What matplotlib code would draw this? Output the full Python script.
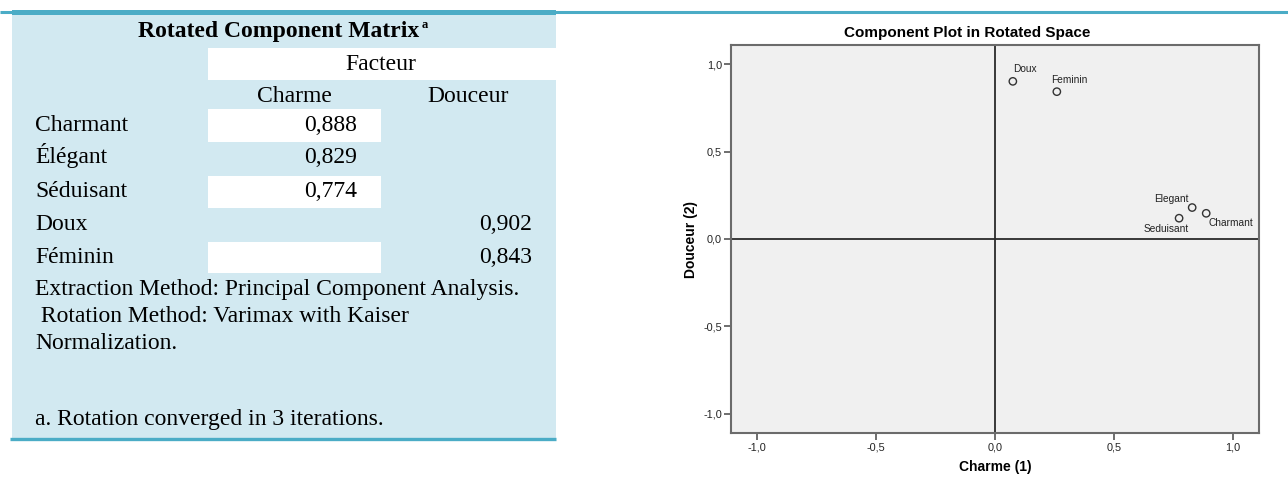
import matplotlib
matplotlib.use('Agg')
import matplotlib.pyplot as plt
from matplotlib.patches import Rectangle

# table data
variables = ['Charmant', 'Élégant', 'Séduisant', 'Doux', 'Féminin']
charme = [0.888, 0.829, 0.774, None, None]
douceur = [None, None, None, 0.902, 0.843]
notes = ['Extraction Method: Principal Component Analysis.',
         ' Rotation Method: Varimax with Kaiser',
         'Normalization.']
footnote = 'a. Rotation converged in 3 iterations.'

# component plot data
point_names = ['Charmant', 'Elegant', 'Seduisant', 'Doux', 'Feminin']
comp1 = [0.888, 0.829, 0.774, 0.075, 0.260]
comp2 = [0.147, 0.180, 0.119, 0.902, 0.843]
ticks = [-1.0, -0.5, 0.0, 0.5, 1.0]

W, H = 1288, 487
fig = plt.figure(figsize=(W / 100, H / 100), dpi=100)

# overlay in pixel coords for the table
bg = fig.add_axes([0, 0, 1, 1])
bg.set_xlim(0, W)
bg.set_ylim(H, 0)
bg.axis('off')

serif = 'Liberation Serif'
sans = 'Liberation Sans'
fs = 17
blue = '#4BACC6'

bg.add_patch(Rectangle((12, 14), 544, 424, fc='#D2E9F1', ec='none'))
bg.plot([0, W], [12, 12], color=blue, lw=2.2, solid_capstyle='butt')
bg.add_patch(Rectangle((12, 10), 544, 5, fc=blue, ec='none'))
bg.plot([10, 556], [438.5, 438.5], color=blue, lw=2.4, solid_capstyle='butt')

# white cells
bg.add_patch(Rectangle((208, 48), 348, 32, fc='white', ec='none'))
for y0, h in [(109, 33), (176, 32), (242, 31)]:
    bg.add_patch(Rectangle((208, y0), 173, h, fc='white', ec='none'))

bg.text(279, 37, 'Rotated Component Matrix', ha='center', va='baseline',
        fontsize=fs, fontweight='bold', family=serif)
bg.text(422, 28, 'a', ha='left', va='baseline', fontsize=9,
        fontweight='bold', family=serif)
bg.text(381, 70, 'Facteur', ha='center', va='baseline', fontsize=fs, family=serif)
bg.text(294, 101.7, 'Charme', ha='center', va='baseline', fontsize=fs, family=serif)
bg.text(468, 101.7, 'Douceur', ha='center', va='baseline', fontsize=fs, family=serif)

row_base = [130.7, 163.3, 196.7, 230.0, 263.3]
for name, c1, c2, yb in zip(variables, charme, douceur, row_base):
    bg.text(35, yb, name, ha='left', va='baseline', fontsize=fs, family=serif)
    if c1 is not None:
        bg.text(357, yb, '{:.3f}'.format(c1).replace('.', ','), ha='right',
                va='baseline', fontsize=fs, family=serif)
    if c2 is not None:
        bg.text(532, yb, '{:.3f}'.format(c2).replace('.', ','), ha='right',
                va='baseline', fontsize=fs, family=serif)

for line, yb in zip(notes, [295, 321.7, 349.3]):
    bg.text(35, yb, line, ha='left', va='baseline', fontsize=fs, family=serif)
bg.text(35, 425, footnote, ha='left', va='baseline', fontsize=fs, family=serif)

# component plot
ax = fig.add_axes([731 / W, 1 - 433 / H, 528 / W, 388 / H])
ax.set_facecolor('#F0F0F0')
ax.axhline(0, color='#2A2A2A', lw=1.3, zorder=1)
ax.axvline(0, color='#2A2A2A', lw=1.3, zorder=1)
ax.scatter(comp1, comp2, s=28, facecolors='none', edgecolors='#333333',
           linewidths=1.0, zorder=3)

offsets = {
    'Doux': ((0, 8.6), 'left'),
    'Feminin': ((-4.1, 8.4), 'left'),
    'Elegant': ((-2.7, 6.5), 'right'),
    'Seduisant': ((-9.6, -7.7), 'center'),
    'Charmant': ((1.4, -6.9), 'left'),
}
for name, x, y in zip(point_names, comp1, comp2):
    off, ha = offsets[name]
    ax.annotate(name, (x, y), xytext=off, textcoords='offset points',
                ha=ha, va='center', fontsize=7.3, family=sans, color='#222222')

ax.set_xlim(-1.11, 1.11)
ax.set_ylim(-1.11, 1.11)
tick_labels = ['{:.1f}'.format(t).replace('.', ',') for t in ticks]
tick_labels = [t.replace('-0,0', '0,0') for t in tick_labels]
ax.set_xticks(ticks)
ax.set_xticklabels(tick_labels, family=sans)
ax.set_yticks(ticks)
ax.set_yticklabels(tick_labels, family=sans)
ax.tick_params(length=5, width=1.2, color='#555555', labelsize=7.8,
               labelcolor='#222222', pad=1.5)
for sp in ax.spines.values():
    sp.set_color('#6B6B6B')
    sp.set_linewidth(1.5)

ax.set_xlabel('Charme (1)', fontsize=10, fontweight='bold', family=sans, labelpad=6)
ax.set_ylabel('Douceur (2)', fontsize=10, fontweight='bold', family=sans, labelpad=4)
fig.text(967 / W, 1 - 33 / H, 'Component Plot in Rotated Space', ha='center',
         va='center', fontsize=11, fontweight='bold', family=sans)

fig.savefig('out.png', dpi=100)
